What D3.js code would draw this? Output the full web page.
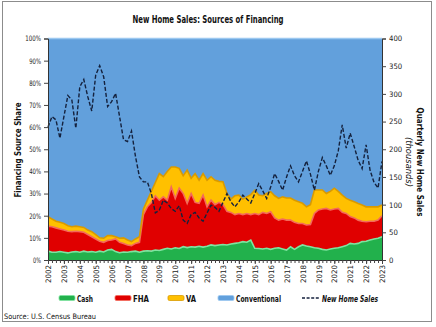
<!DOCTYPE html>
<html><head><meta charset="utf-8">
<script src="https://cdn.jsdelivr.net/npm/d3@7"></script>
<style>
html,body{margin:0;padding:0;background:#fff;}
svg{display:block;}
text{font-family:"DejaVu Sans Condensed","DejaVu Sans","Liberation Sans",sans-serif;}
</style></head><body>
<svg id="chart" width="436" height="327"></svg>
<script>
const years = ["2002","2003","2004","2005","2006","2007","2008","2009","2010","2011","2012","2013","2014","2015","2016","2017","2018","2019","2020","2021","2022","2023"];
// quarterly shares (%), 2002Q1 .. 2023Q1
const cash = [4.0,3.5,3.5,3.8, 3.5,3.2,3.6,3.8, 3.5,4.0,3.6,3.8, 3.5,4.0,3.6,4.5, 4.8,3.8,3.3,3.6, 3.5,3.8,4.0,3.5,
  4.0,4.2,4.0,4.5, 4.3,4.8,5.3,5.0, 5.5,5.2,6.0,5.6, 6.0,5.8,6.2,5.8, 6.2,6.8,6.5,6.8, 7.0,6.8,7.2,7.5,
  7.8,8.3,8.0,9.0, 5.3,5.2,5.0,5.3, 4.8,5.3,5.5,5.0, 4.5,6.0,4.8,6.0, 6.8,6.3,6.0,5.5, 5.3,4.8,4.5,5.0,
  5.3,5.5,6.0,6.5, 7.5,7.2,7.5,8.3, 8.5,9.0,9.5,9.8, 10.5];
const fhaTop = [15.3,15.0,14.5,14.0, 13.5,13.0,12.8,13.0, 12.8,12.5,11.5,10.5, 9.5,8.5,8.0,8.8, 9.0,9.5,8.0,7.5, 6.8,6.5,7.5,8.0,
  20.5,24,26,29, 27,28.5,27,33, 27.8,32.4,30,25.6, 30,26,25.6,29.3, 24,27,25,26, 25,22,21.5,20.5,
  21,20.5,21,20.5, 21,20.5,21.5,21, 21.8,19,18,18.5, 18,18,17,16.5, 16.5,15.8,16,21, 22.6,23,23.3,22.6,
  23,23.3,21.5,21, 19.6,19,18,17.5, 17.3,17.5,17.5,18, 20];
const vaTop = [19.5,18.5,17.5,17, 16.5,15.5,15.0,15.3, 15.0,14.7,13.5,12.8, 11.5,10.0,9.8,11.0, 11.0,10.5,9.8,10.0, 9.0,8.3,9.5,10.5,
  23,27,31,35, 39,37.6,40,42, 42,41.4,38,40.6, 36.9,39,36,39, 36,37.6,36,35.5, 35.3,30,27.5,29,
  29.3,27.5,28.5,29.5, 31.5,29.3,29,30, 30.8,29,27.8,28.5, 28,28,27,26.3, 25.6,24,25,31.6, 31.6,31.6,30,31,
  32.4,31,29.3,27.8, 27,26.3,25.5,24.8, 24,24,24,24, 24.8];
const sales = [240,259,253,220, 259,297,289,238, 313,326,295,269, 334,351,331,277, 286,301,259,217, 214,233,187,150,
  141,141,120,85, 90,108,103,93, 88,98,72,66, 82,86,76,70, 85,99,95,88, 104,120,105,96,
  105,117,110,103, 120,138,125,111, 132,156,142,126, 150,170,152,141, 160,179,155,126, 160,185,170,153,
  170,197,244,202, 229,205,180,165, 208,162,140,130, 178];
const seriesNames = ["Cash","FHA","VA","Conventional"];
const seriesColors = ["#22B14C","#E00000","#FFC000","#62A0DC"];
const edgeColors = ["#7FE3A0","#F36A5A","#D99A00","#9CC8F0"];

const svg = d3.select("#chart");
const L = 48, R = 382, T = 38.5, B = 260;
const x = d3.scaleLinear().domain([+years[0], +years[years.length-1]]).range([L, R]);
const yL = d3.scaleLinear().domain([0, 1]).range([B, T]);
const yR = d3.scaleLinear().domain([0, 400]).range([B, T]);

function fit(sel, w) { sel.attr("textLength", w).attr("lengthAdjust", "spacingAndGlyphs"); return sel; }

const table = cash.map((c, i) => ({
  t: +years[0] + i / 4,
  Cash: c / 100,
  FHA: (fhaTop[i] - c) / 100,
  VA: (vaTop[i] - fhaTop[i]) / 100,
  Conventional: (100 - vaTop[i]) / 100,
  sales: sales[i]
}));

// frame
svg.append("rect").attr("x", 2.5).attr("y", 1.5).attr("width", 429).attr("height", 320)
  .attr("fill", "#fff").attr("stroke", "#8c8c8c").attr("stroke-width", 1);

const layers = d3.stack().keys(seriesNames)(table);
const area = d3.area().x(d => x(d.data.t)).y0(d => yL(d[0])).y1(d => yL(d[1]));
layers.slice().reverse().forEach(layer => {
  const k = seriesNames.indexOf(layer.key);
  svg.append("path").datum(layer).attr("d", area).attr("fill", seriesColors[k]);
});
const topLine = d3.line().x(d => x(d.data.t)).y(d => yL(d[1]));
layers.forEach((layer, k) => {
  svg.append("path").datum(layer).attr("d", topLine).attr("fill", "none")
    .attr("stroke", edgeColors[k]).attr("stroke-width", 1.6);
});

// sales line
const line = d3.line().x(d => x(d.t)).y(d => yR(d.sales));
svg.append("path").datum(table).attr("d", line).attr("fill", "none")
  .attr("stroke", "#14213d").attr("stroke-width", 1.4).attr("stroke-dasharray", "4,2");

// axes
const axL = svg.append("g").attr("transform", `translate(${L},0)`)
  .call(d3.axisLeft(yL).tickValues(d3.range(0, 1.01, 0.1)).tickFormat(d3.format(".0%")).tickSize(4).tickPadding(3));
const axR = svg.append("g").attr("transform", `translate(${R},0)`)
  .call(d3.axisRight(yR).tickValues(d3.range(0, 401, 50)).tickSize(4).tickPadding(3));
const axB = svg.append("g").attr("transform", `translate(0,${B})`)
  .call(d3.axisBottom(x).tickValues(table.map(d => d.t)).tickFormat("").tickSize(3));
const axBY = svg.append("g").attr("transform", `translate(0,${B})`)
  .call(d3.axisBottom(x).tickValues(years.map(Number)).tickFormat(d => String(d)).tickSize(4));
axBY.select(".domain").remove();
axBY.selectAll("text").attr("transform", "rotate(-90)").attr("text-anchor", "end")
  .attr("x", -5).attr("y", 0).attr("dy", "0.35em");
[axL, axR, axB, axBY].forEach(g => {
  g.selectAll("text").attr("font-size", 7.5).attr("fill", "#222");
  g.selectAll("line").attr("stroke", "#444");
  g.select(".domain").attr("stroke", "#333");
});
axL.selectAll("text").each(function(d) {
  const s = d3.format(".0%")(d);
  fit(d3.select(this), (s.length - 1) * 3.9 + 4);
});
axR.selectAll("text").each(function(d) { fit(d3.select(this), String(d).length * 4.4); });
axBY.selectAll("text").each(function() { fit(d3.select(this), 18); });

// titles
fit(svg.append("text").attr("x", 208).attr("y", 23).attr("text-anchor", "middle")
  .attr("font-size", 10).attr("font-weight", "bold").attr("fill", "#111")
  .text("New Home Sales: Sources of Financing"), 151);
fit(svg.append("text").attr("transform", "translate(21,150) rotate(-90)").attr("text-anchor", "middle")
  .attr("font-size", 9).attr("font-weight", "bold").attr("fill", "#111")
  .text("Financing Source Share"), 95);
fit(svg.append("text").attr("transform", "translate(417,162) rotate(90)").attr("text-anchor", "middle")
  .attr("font-size", 9).attr("font-weight", "bold").attr("fill", "#111")
  .text("Quarterly New Home Sales"), 109);
fit(svg.append("text").attr("transform", "translate(406,162) rotate(90)").attr("text-anchor", "middle")
  .attr("font-size", 8.5).attr("font-style", "italic").attr("fill", "#111")
  .text("(thousands)"), 50);

// legend
const legendItems = [
  {name: "Cash", x: 59, w: 16}, {name: "FHA", x: 115, w: 16}, {name: "VA", x: 168, w: 10}, {name: "Conventional", x: 218, w: 45}
];
legendItems.forEach((it, k) => {
  svg.append("rect").attr("x", it.x).attr("y", 295.5).attr("width", 16).attr("height", 5).attr("rx", 1.5)
    .attr("fill", seriesColors[k]).attr("stroke", edgeColors[k]).attr("stroke-width", 0.8);
  fit(svg.append("text").attr("x", it.x + 18).attr("y", 301.5).attr("font-size", 9).attr("font-weight", "bold")
    .attr("fill", "#111").text(it.name), it.w);
});
svg.append("line").attr("x1", 302).attr("x2", 320).attr("y1", 298).attr("y2", 298)
  .attr("stroke", "#14213d").attr("stroke-width", 1.4).attr("stroke-dasharray", "3,1.6");
fit(svg.append("text").attr("x", 322).attr("y", 301.5).attr("font-size", 9).attr("font-weight", "bold")
  .attr("font-style", "italic").attr("fill", "#111").text("New Home Sales"), 56);

fit(svg.append("text").attr("x", 4).attr("y", 319).attr("font-size", 7.5).attr("fill", "#111")
  .text("Source: U.S. Census Bureau"), 92);
</script></body></html>
